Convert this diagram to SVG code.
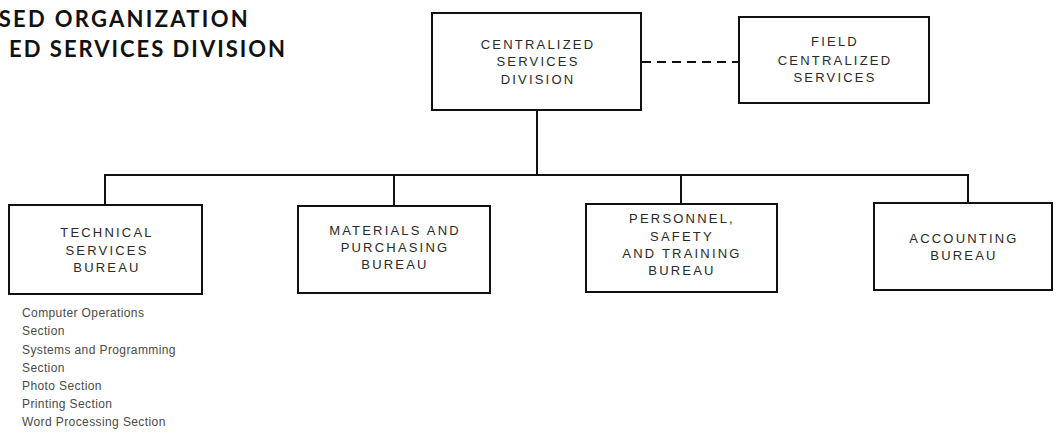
<svg xmlns="http://www.w3.org/2000/svg" width="1059" height="440" viewBox="0 0 1059 440">
  <style>
    .box { fill: #ffffff; stroke: #111111; stroke-width: 2; }
    .wire { fill: none; stroke: #111111; stroke-width: 2; }
    .dash { fill: none; stroke: #111111; stroke-width: 2; stroke-dasharray: 9 6; }
    .lbl { font-family: "Liberation Sans", Arial, sans-serif; font-size: 13px; letter-spacing: 2.2px; fill: #2a2a2a; text-anchor: middle; }
    .sub { font-family: "Liberation Sans", Arial, sans-serif; font-size: 12px; letter-spacing: 0.4px; fill: #4a4a4a; }
    .title { font-family: Lato, "Open Sans", sans-serif; font-weight: 700; font-size: 22px; letter-spacing: 2.3px; fill: #111111; text-anchor: end; }
  </style>

  <!-- heading, cut at the left margin -->
  <g id="heading">
    <text class="title" x="250" y="27">SED ORGANIZATION</text>
    <text class="title" x="287" y="57" style="letter-spacing: 2px">ED SERVICES DIVISION</text>
  </g>

  <!-- connectors -->
  <g id="connectors">
    <line class="dash" x1="642" y1="62" x2="739" y2="62"/>
    <line class="wire" x1="537" y1="110" x2="537" y2="175"/>
    <polyline class="wire" points="105,205 105,175 968,175 968,203"/>
    <line class="wire" x1="394" y1="175" x2="394" y2="206"/>
    <line class="wire" x1="681" y1="175" x2="681" y2="204"/>
  </g>

  <g id="central">
    <rect class="box" x="432" y="13" width="209" height="97"/>
    <text class="lbl" x="538" y="49">CENTRALIZED</text>
    <text class="lbl" x="538" y="66">SERVICES</text>
    <text class="lbl" x="538" y="84">DIVISION</text>
  </g>

  <g id="field">
    <rect class="box" x="739" y="17" width="190" height="86"/>
    <text class="lbl" x="835" y="46">FIELD</text>
    <text class="lbl" x="835" y="65">CENTRALIZED</text>
    <text class="lbl" x="835" y="82">SERVICES</text>
  </g>

  <g id="technical">
    <rect class="box" x="9" y="205" width="193" height="89"/>
    <text class="lbl" x="107" y="237">TECHNICAL</text>
    <text class="lbl" x="107" y="255">SERVICES</text>
    <text class="lbl" x="107" y="272">BUREAU</text>
  </g>

  <g id="materials">
    <rect class="box" x="298" y="206" width="192" height="87"/>
    <text class="lbl" x="395" y="235">MATERIALS AND</text>
    <text class="lbl" x="395" y="252">PURCHASING</text>
    <text class="lbl" x="395" y="269">BUREAU</text>
  </g>

  <g id="personnel">
    <rect class="box" x="586" y="204" width="191" height="88"/>
    <text class="lbl" x="682" y="223">PERSONNEL,</text>
    <text class="lbl" x="682" y="241">SAFETY</text>
    <text class="lbl" x="682" y="258">AND TRAINING</text>
    <text class="lbl" x="682" y="275">BUREAU</text>
  </g>

  <g id="accounting">
    <rect class="box" x="874" y="203" width="178" height="87"/>
    <text class="lbl" x="964" y="243">ACCOUNTING</text>
    <text class="lbl" x="964" y="260">BUREAU</text>
  </g>

  <g id="technical-sections">
    <text class="sub" x="22" y="317">Computer Operations</text>
    <text class="sub" x="22" y="335">Section</text>
    <text class="sub" x="22" y="354">Systems and Programming</text>
    <text class="sub" x="22" y="372">Section</text>
    <text class="sub" x="22" y="390">Photo Section</text>
    <text class="sub" x="22" y="408">Printing Section</text>
    <text class="sub" x="22" y="426">Word Processing Section</text>
  </g>
</svg>
